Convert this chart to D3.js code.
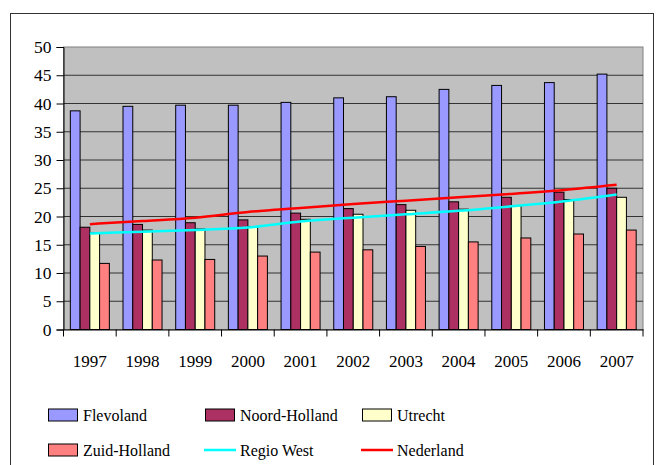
<!DOCTYPE html>
<html>
<head>
<meta charset="utf-8">
<script src="https://cdn.jsdelivr.net/npm/d3@7"></script>
<style>
body { margin: 0; background: #fff; }
svg text { font-family: "Liberation Serif", "DejaVu Serif", "Times New Roman", serif; fill: #000; }
</style>
</head>
<body>
<script>
var years = ['1997', '1998', '1999', '2000', '2001', '2002', '2003', '2004', '2005', '2006', '2007'];
var barSeries = ['Flevoland', 'Noord-Holland', 'Utrecht', 'Zuid-Holland'];
var flevoland = [38.7, 39.5, 39.7, 39.7, 40.2, 41.0, 41.2, 42.5, 43.2, 43.7, 45.2];
var noordHolland = [18.1, 18.6, 18.9, 19.4, 20.6, 21.4, 22.1, 22.6, 23.4, 24.3, 25.0];
var utrecht = [17.1, 17.6, 17.8, 18.2, 19.5, 20.4, 21.1, 21.3, 21.9, 23.0, 23.4];
var zuidHolland = [11.7, 12.3, 12.4, 13.0, 13.7, 14.1, 14.7, 15.5, 16.2, 16.9, 17.6];
var regioWest = [17.0, 17.3, 17.6, 18.05, 19.1, 19.8, 20.4, 21.0, 21.8, 22.7, 23.9];
var nederland = [18.65, 19.2, 19.8, 20.8, 21.5, 22.2, 22.8, 23.4, 24.0, 24.7, 25.6];
var yTicks = [0, 5, 10, 15, 20, 25, 30, 35, 40, 45, 50];

var barData = [flevoland, noordHolland, utrecht, zuidHolland];
var barColors = ['#9999FF', '#AD3063', '#FFFFCC', '#FF8080'];

var svg = d3.select('body').append('svg')
	.attr('width', 656)
	.attr('height', 465);

// outer chart border
svg.append('rect')
	.attr('x', 10.5).attr('y', 13.5)
	.attr('width', 643).attr('height', 470)
	.attr('fill', 'none')
	.attr('stroke', '#333')
	.attr('stroke-width', 1);

var plot = { left: 63.5, top: 47, right: 643, bottom: 329.5 };

var x = d3.scaleBand()
	.domain(years)
	.range([plot.left, plot.right]);

var xs = d3.scaleBand()
	.domain(barSeries)
	.range([0, x.bandwidth()])
	.paddingOuter(0.7);

var y = d3.scaleLinear()
	.domain([0, 50])
	.range([plot.bottom, plot.top]);

// plot background
svg.append('rect')
	.attr('x', plot.left).attr('y', plot.top)
	.attr('width', plot.right - plot.left).attr('height', plot.bottom - plot.top)
	.attr('fill', '#C0C0C0')
	.attr('stroke', '#808080')
	.attr('stroke-width', 1);

// gridlines
svg.append('g')
	.selectAll('line')
	.data(yTicks.slice(1, -1))
	.enter().append('line')
		.attr('x1', plot.left).attr('x2', plot.right)
		.attr('y1', function(d) { return y(d); })
		.attr('y2', function(d) { return y(d); })
		.attr('stroke', '#333')
		.attr('stroke-width', 1);

// bars
barData.forEach(function(vals, i) {
	svg.append('g')
		.selectAll('rect')
		.data(vals)
		.enter().append('rect')
			.attr('x', function(d, j) { return x(years[j]) + xs(barSeries[i]); })
			.attr('y', function(d) { return y(d); })
			.attr('width', xs.bandwidth())
			.attr('height', function(d) { return y(0) - y(d); })
			.attr('fill', barColors[i])
			.attr('stroke', '#000')
			.attr('stroke-width', 1);
});

var line = d3.line()
	.x(function(d, j) { return x(years[j]) + x.bandwidth() / 2; })
	.y(function(d) { return y(d); })
	.curve(d3.curveMonotoneX);

svg.append('path')
	.datum(regioWest)
	.attr('d', line)
	.attr('fill', 'none')
	.attr('stroke', '#00FFFF')
	.attr('stroke-width', 2.5);

svg.append('path')
	.datum(nederland)
	.attr('d', line)
	.attr('fill', 'none')
	.attr('stroke', '#FF0000')
	.attr('stroke-width', 2.5);

// y axis
var yAxis = svg.append('g')
	.attr('transform', 'translate(' + plot.left + ',0)')
	.call(d3.axisLeft(y).tickValues(yTicks).tickSize(7).tickPadding(5));
yAxis.attr('font-family', null);
yAxis.select('.domain').attr('stroke', '#000');
yAxis.selectAll('.tick line').attr('stroke', '#000');
yAxis.selectAll('.tick text')
	.attr('font-size', 17.5)
	.attr('fill', '#000');

// x axis
var xAxis = svg.append('g')
	.attr('transform', 'translate(0,' + plot.bottom + ')')
	.call(d3.axisBottom(x).tickSize(0).tickPadding(25));
xAxis.attr('font-family', null);
xAxis.select('.domain').attr('stroke', '#000');
xAxis.selectAll('.tick text')
	.attr('font-size', 17)
	.attr('fill', '#000');
xAxis.selectAll('.sep')
	.data(years.concat(['end']))
	.enter().append('line')
		.attr('x1', function(d, j) { return plot.left + j * x.step(); })
		.attr('x2', function(d, j) { return plot.left + j * x.step(); })
		.attr('y1', 0).attr('y2', 7)
		.attr('stroke', '#000');

// legend
var legendItems = [
	{ name: 'Flevoland', type: 'bar', color: barColors[0], col: 0, row: 0 },
	{ name: 'Noord-Holland', type: 'bar', color: barColors[1], col: 1, row: 0 },
	{ name: 'Utrecht', type: 'bar', color: barColors[2], col: 2, row: 0 },
	{ name: 'Zuid-Holland', type: 'bar', color: barColors[3], col: 0, row: 1 },
	{ name: 'Regio West', type: 'line', color: '#00FFFF', col: 1, row: 1 },
	{ name: 'Nederland', type: 'line', color: '#FF0000', col: 2, row: 1 }
];
var colX = [48, 205, 362];
var rowY = [415, 450];

var leg = svg.append('g').selectAll('g')
	.data(legendItems)
	.enter().append('g')
		.attr('transform', function(d) { return 'translate(' + colX[d.col] + ',' + rowY[d.row] + ')'; });

leg.filter(function(d) { return d.type === 'bar'; })
	.append('rect')
		.attr('x', 0.5).attr('y', -6)
		.attr('width', 29).attr('height', 12)
		.attr('fill', function(d) { return d.color; })
		.attr('stroke', '#000');

leg.filter(function(d) { return d.type === 'line'; })
	.append('line')
		.attr('x1', -1).attr('x2', 31)
		.attr('y1', 0).attr('y2', 0)
		.attr('stroke', function(d) { return d.color; })
		.attr('stroke-width', 2.5);

leg.append('text')
	.attr('x', 35)
	.attr('y', 0)
	.attr('dy', '0.35em')
	.attr('font-size', 16)
	.text(function(d) { return d.name; });
</script>
</body>
</html>
